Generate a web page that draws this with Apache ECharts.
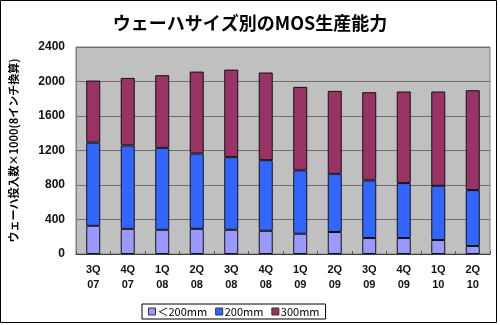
<!DOCTYPE html>
<html>
<head>
<meta charset="utf-8">
<script src="https://cdn.jsdelivr.net/npm/echarts@6/dist/echarts.min.js"></script>
<style>
  html, body { margin: 0; padding: 0; background: #fff; }
  #chart { width: 500px; height: 325px; }
</style>
</head>
<body>
<div id="chart"></div>
<script>
// Quarterly MOS capacity by wafer size (thousand wafers, 8-inch equivalent)
const quarters = ['3Q\n07', '4Q\n07', '1Q\n08', '2Q\n08', '3Q\n08', '4Q\n08',
                  '1Q\n09', '2Q\n09', '3Q\n09', '4Q\n09', '1Q\n10', '2Q\n10'];
const under200 = [327, 292, 281, 292, 281, 269, 235, 255, 185, 185, 162, 93];
const size200  = [965, 966, 950, 873, 842, 819, 734, 675, 668, 637, 629, 648];
const size300  = [719, 784, 842, 950, 1015, 1016, 969, 961, 1023, 1062, 1093, 1158];
const seriesNames = ['＜200mm', '200mm', '300mm'];
const yTicks = { min: 0, max: 2400, step: 400 };

const colors = ['#9999FF', '#3366FF', '#993366'];
const jpFont = '"Noto Sans CJK JP", "Liberation Sans", sans-serif';
const numFont = '"Liberation Sans", Arial, sans-serif';

const chart = echarts.init(document.getElementById('chart'), null, { renderer: 'canvas' });

const barSeries = [under200, size200, size300].map((vals, i) => ({
  name: seriesNames[i],
  type: 'bar',
  stack: 'total',
  barWidth: 14,
  data: vals,
  itemStyle: { color: colors[i], borderColor: '#111', borderWidth: 1 },
  emphasis: { disabled: true }
}));

chart.setOption({
  animation: false,
  backgroundColor: '#fff',
  title: {
    text: 'ウェーハサイズ別のMOS生産能力',
    left: 'center',
    top: 9,
    textStyle: { fontFamily: jpFont, fontSize: 18, fontWeight: 'bold', color: '#000' }
  },
  legend: {
    bottom: 6,
    left: 142,
    itemWidth: 7,
    itemHeight: 7,
    itemGap: 8,
    padding: [2, 6, 2, 6],
    borderColor: '#000',
    borderWidth: 1,
    borderRadius: 0,
    icon: 'rect',
    itemStyle: { borderColor: '#333', borderWidth: 1 },
    textStyle: { fontFamily: jpFont, fontSize: 11, color: '#000', padding: [0, 0, 0, -3] },
    data: seriesNames
  },
  grid: {
    left: 69, right: 10, top: 47, bottom: 71,
    show: true,
    backgroundColor: '#C0C0C0',
    borderColor: '#808080',
    borderWidth: 1
  },
  xAxis: {
    type: 'category',
    data: quarters,
    axisLine: { lineStyle: { color: '#333', type: 'dotted', width: 1 } },
    axisTick: { show: true, inside: true, length: 3, alignWithLabel: false, lineStyle: { color: '#555' } },
    axisLabel: {
      fontFamily: numFont, fontSize: 11, fontWeight: 'bold', color: '#111',
      lineHeight: 15, margin: 8, interval: 0
    }
  },
  yAxis: {
    type: 'value',
    min: yTicks.min,
    max: yTicks.max,
    interval: yTicks.step,
    name: 'ウェーハ投入数×1000(8インチ換算)',
    nameLocation: 'middle',
    nameGap: 57,
    nameTextStyle: { fontFamily: jpFont, fontSize: 11, fontWeight: 'bold', color: '#000' },
    axisLine: { show: true, lineStyle: { color: '#808080' } },
    axisTick: { show: false },
    axisLabel: {
      fontFamily: numFont, fontSize: 12, fontWeight: 'bold', color: '#111', margin: 11,
      formatter: v => String(v)
    },
    splitLine: { show: true, lineStyle: { color: '#6E6E6E', width: 1 } }
  },
  graphic: [{
    type: 'rect',
    shape: { x: 0.5, y: 0.5, width: 496, height: 322 },
    style: { fill: 'none', stroke: '#000', lineWidth: 1 },
    silent: true
  }],
  series: barSeries
});
</script>
</body>
</html>
